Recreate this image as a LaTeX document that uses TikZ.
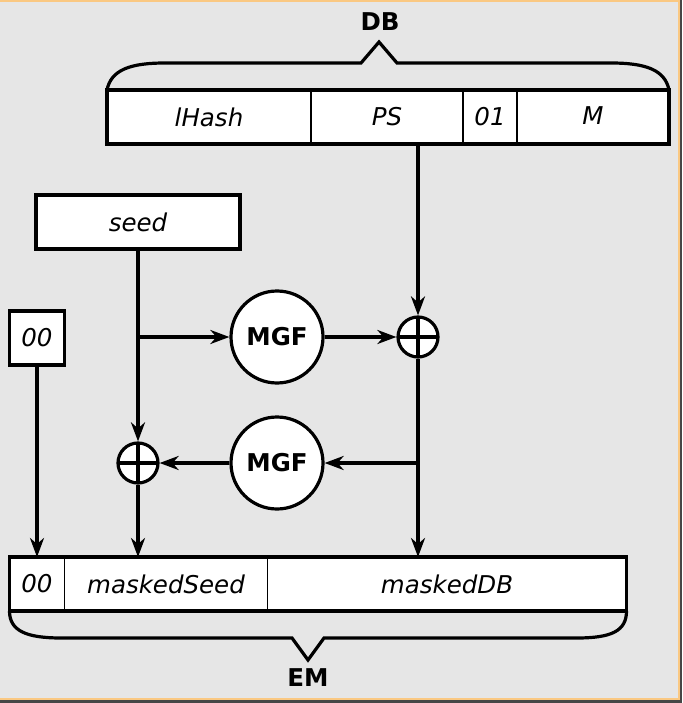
\documentclass[tikz,border=0pt]{standalone}
\usepackage{fontspec}
\setmainfont{DejaVu Sans}
\usetikzlibrary{arrows.meta,calc,positioning}
\definecolor{bggray}{RGB}{230,230,230}
\definecolor{edgeorange}{RGB}{250,200,130}
\definecolor{edgedark}{RGB}{70,70,70}

\begin{document}
\begin{tikzpicture}[x=1pt,y=-1pt,
		every node/.style={font=\fontsize{24.5}{29}\selectfont\itshape},
		cell/.style={draw,line width=1.6pt,fill=white,minimum height=54pt,inner sep=0pt,outer sep=0pt},
		mgf/.style={draw,circle,line width=3.2pt,fill=white,minimum size=92pt,inner sep=0pt,font=\fontsize{24.5}{29}\selectfont\bfseries},
		xor/.style={draw,circle,line width=3.2pt,fill=white,minimum size=40pt,inner sep=0pt,
			path picture={\draw[line width=3.2pt] (path picture bounding box.north) -- (path picture bounding box.south)
				(path picture bounding box.west) -- (path picture bounding box.east);}},
		flow/.style={line width=3.2pt,-{Stealth[length=19pt,width=14pt,inset=6pt]}},
		brace/.style={line width=3.2pt,line join=miter}
		]
		\useasboundingbox (0,0) rectangle (682,703);
		\fill[bggray] (0,0) rectangle (682,703);
		\fill[edgeorange] (0,0) rectangle (682,2);
		\fill[edgeorange] (678,0) rectangle (680,700);
		\fill[edgeorange] (0,698) rectangle (680,700);
		\fill[edgedark] (680,0) rectangle (682,703);
		\fill[edgedark] (0,700) rectangle (682,703);
		% DB row
		\node[cell,minimum width=204pt] (lhash) at (209,117) {lHash};
		\node[cell,minimum width=152pt,right=0pt of lhash] (ps) {PS};
		\node[cell,minimum width=54pt,right=0pt of ps] (one) {01};
		\node[cell,minimum width=152pt,right=0pt of one] (msg) {\raisebox{3pt}{M}};
		\draw[line width=3.2pt] (lhash.north west) rectangle (msg.south east);
		\node[font=\fontsize{24.5}{29}\selectfont\bfseries] (dblabel) at (380,22) {DB};
		\draw[brace] (lhash.north west) .. controls +(4,-20) and +(-35,0) .. ++(58,-27)
			-- (361,63) -- (379,42) -- (397,63) -- ($(msg.north east)+(-58,-27)$)
			.. controls +(35,0) and +(-4,-20) .. (msg.north east);
		% inputs
		\node[cell,line width=3.2pt,minimum width=204pt] (seed) at (138,222) {seed};
		\node[cell,line width=3.2pt,minimum width=55pt] (pad) at (37,338) {00};
		\node[mgf] (mgfa) at (277,337) {MGF};
		\node[xor] (xora) at (418,337) {};
		\node[mgf] (mgfb) at (277,463) {MGF};
		\node[xor] (xorb) at (138,463) {};
		% EM row
		\node[cell,minimum width=55pt] (emzero) at (37,584) {00};
		\node[cell,minimum width=203pt,right=0pt of emzero] (mseed) {maskedSeed};
		\node[cell,minimum width=359pt,right=0pt of mseed] (mdb) {maskedDB};
		\draw[line width=3.2pt] (emzero.north west) rectangle (mdb.south east);
		\node[font=\fontsize{24.5}{29}\selectfont\bfseries] (emlabel) at (308,678) {EM};
		\draw[brace] (emzero.south west) .. controls +(0,20) and +(-35,0) .. ++(52,27)
			-- (292,638) -- (308,660) -- (324,638) -- ($(mdb.south east)+(-50,27)$)
			.. controls +(35,0) and +(0,20) .. (mdb.south east);
		% connectors
		\coordinate (split) at (seed.south |- mgfa);
		\coordinate (tap) at (xora |- mgfb);
		\draw[flow] (xora |- ps.south) -- (xora);
		\draw[flow] (seed.south) -- (xorb);
		\draw[flow] (split) -- (mgfa);
		\draw[flow] (mgfa) -- (xora);
		\draw[flow] (xora) -- (xora |- mdb.north);
		\draw[flow] (tap) -- (mgfb);
		\draw[flow] (mgfb) -- (xorb);
		\draw[flow] (xorb) -- (xorb |- mseed.north);
		\draw[flow] (pad) -- (pad |- emzero.north);
\end{tikzpicture}
\end{document}
